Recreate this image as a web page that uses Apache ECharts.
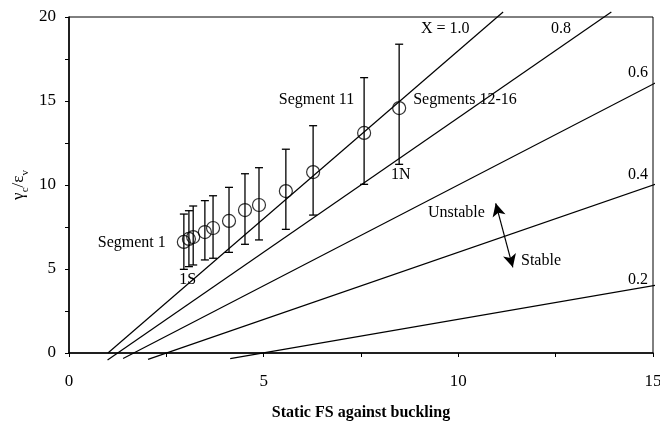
<!DOCTYPE html>
<html>
<head>
<meta charset="utf-8">
<script src="https://cdn.jsdelivr.net/npm/echarts@6/dist/echarts.min.js"></script>
<style>
  html, body { margin: 0; padding: 0; background: #fff; }
  #main { width: 660px; height: 428px; }
</style>
</head>
<body>
<div id="main"></div>
<script>
var myChart = echarts.init(document.getElementById('main'));

// measured segments: static FS (x), gamma_c/eps_v (y), error bar range
var fsX     = [2.95, 3.08, 3.19, 3.49, 3.70, 4.11, 4.52, 4.88, 5.57, 6.27, 7.58, 8.48];
var ratioY  = [6.61, 6.79, 6.90, 7.20, 7.44, 7.86, 8.51, 8.81, 9.64, 10.77, 13.10, 14.58];
var errLow  = [4.98, 5.14, 5.24, 5.54, 5.64, 5.99, 6.47, 6.73, 7.36, 8.21, 10.04, 11.23];
var errHigh = [8.27, 8.47, 8.75, 9.07, 9.36, 9.86, 10.67, 11.03, 12.13, 13.53, 16.39, 18.38];

// boundary lines for each X value, [start, end] points
var lineX10 = [[1.00, 0.00], [11.15, 20.30]];
var lineX08 = [[0.99, -0.42], [13.93, 20.30]];
var lineX06 = [[1.39, -0.33], [15.15, 16.18]];
var lineX04 = [[2.03, -0.38], [15.15, 10.12]];
var lineX02 = [[4.14, -0.34], [15.15, 4.06]];

// text notes [x, y, text]
var notes = [
    [9.04, 19.29, 'X = 1.0'],
    [12.38, 19.29, '0.8'],
    [14.36, 16.67, '0.6'],
    [14.36, 10.60, '0.4'],
    [14.36, 4.35, '0.2'],
    [5.39, 15.06, 'Segment 11'],
    [8.84, 15.06, 'Segments 12-16'],
    [8.27, 10.60, '1N'],
    [0.74, 6.55, 'Segment 1'],
    [2.83, 4.35, '1S'],
    [9.22, 8.33, 'Unstable'],
    [11.61, 5.48, 'Stable']
];

// stable/unstable double arrow
var arrowFrom = [10.96, 8.91];
var arrowTo = [11.40, 5.10];

var FONT = 'Liberation Serif';

function boundLine(name, pts) {
    return {
        name: name,
        type: 'line',
        data: pts,
        clip: false,
        symbol: 'none',
        silent: true,
        lineStyle: { color: '#000', width: 1.2 },
        z: 2
    };
}

var points = fsX.map(function (x, i) { return [x, ratioY[i]]; });
var bars = fsX.map(function (x, i) { return [x, errLow[i], errHigh[i]]; });

var option = {
    animation: false,
    backgroundColor: '#fff',
    grid: {
        left: 69, right: 7, top: 17, bottom: 75,
        outerBoundsMode: 'none',
        containLabel: false,
        show: true, borderColor: '#000', borderWidth: 1
    },
    xAxis: {
        type: 'value',
        min: 0, max: 15, interval: 2.5,
        name: 'Static FS against buckling',
        nameLocation: 'middle',
        nameGap: 52,
        nameMoveOverlap: false,
        nameTextStyle: { fontFamily: FONT, fontSize: 16, fontWeight: 'bold', color: '#000' },
        axisLine: { lineStyle: { color: '#000', width: 1.5 } },
        axisTick: { show: true, length: 4, lineStyle: { color: '#000' } },
        axisLabel: {
            fontFamily: FONT, fontSize: 17, color: '#000', margin: 20,
            formatter: function (v) { return v % 5 === 0 ? String(v) : ''; }
        },
        splitLine: { show: false }
    },
    yAxis: {
        type: 'value',
        min: 0, max: 20, interval: 2.5,
        name: '{g|γ}{s|c}{g|/ε}{s|v}',
        nameLocation: 'middle',
        nameGap: 42,
        nameMoveOverlap: false,
        nameTextStyle: {
            color: '#000',
            rich: {
                g: { fontFamily: FONT, fontSize: 17, color: '#000', lineHeight: 20, verticalAlign: 'bottom' },
                s: { fontFamily: FONT, fontSize: 11, color: '#000', lineHeight: 20, verticalAlign: 'bottom', padding: [0, 0, -4, 0] }
            }
        },
        axisLine: { lineStyle: { color: '#000', width: 1.5 } },
        axisTick: { show: true, length: 4, lineStyle: { color: '#000' } },
        axisLabel: {
            fontFamily: FONT, fontSize: 17, color: '#000', margin: 13,
            formatter: function (v) { return v % 5 === 0 ? String(v) : ''; }
        },
        splitLine: { show: false }
    },
    series: [
        boundLine('X=1.0', lineX10),
        boundLine('X=0.8', lineX08),
        boundLine('X=0.6', lineX06),
        boundLine('X=0.4', lineX04),
        boundLine('X=0.2', lineX02),
        {
            name: 'error',
            type: 'custom',
            data: bars,
            silent: true,
            renderItem: function (params, api) {
                var x = api.value(0);
                var lo = api.coord([x, api.value(1)]);
                var hi = api.coord([x, api.value(2)]);
                var cap = 4;
                var st = { stroke: '#000', lineWidth: 1.3 };
                return {
                    type: 'group',
                    children: [
                        { type: 'line', shape: { x1: lo[0], y1: lo[1], x2: hi[0], y2: hi[1] }, style: st },
                        { type: 'line', shape: { x1: lo[0] - cap, y1: lo[1], x2: lo[0] + cap, y2: lo[1] }, style: st },
                        { type: 'line', shape: { x1: hi[0] - cap, y1: hi[1], x2: hi[0] + cap, y2: hi[1] }, style: st }
                    ]
                };
            },
            z: 3
        },
        {
            name: 'segments',
            type: 'scatter',
            data: points,
            symbol: 'circle',
            symbolSize: 13,
            itemStyle: { color: 'rgba(255,255,255,0)', borderColor: '#000', borderWidth: 1.2 },
            z: 4,
            markLine: {
                silent: true,
                symbol: ['arrow', 'arrow'],
                symbolSize: [10, 13],
                label: { show: false },
                lineStyle: { color: '#000', width: 1.2, type: 'solid' },
                data: [[{ coord: arrowFrom }, { coord: arrowTo }]]
            }
        },
        {
            name: 'notes',
            type: 'custom',
            data: notes,
            silent: true,
            renderItem: function (params, api) {
                var p = api.coord([api.value(0), api.value(1)]);
                return {
                    type: 'text',
                    x: p[0], y: p[1],
                    style: {
                        text: notes[params.dataIndex][2],
                        font: '16px "' + FONT + '"',
                        fill: '#000',
                        align: 'left',
                        verticalAlign: 'middle'
                    }
                };
            },
            z: 5
        }
    ]
};

myChart.setOption(option);
</script>
</body>
</html>
